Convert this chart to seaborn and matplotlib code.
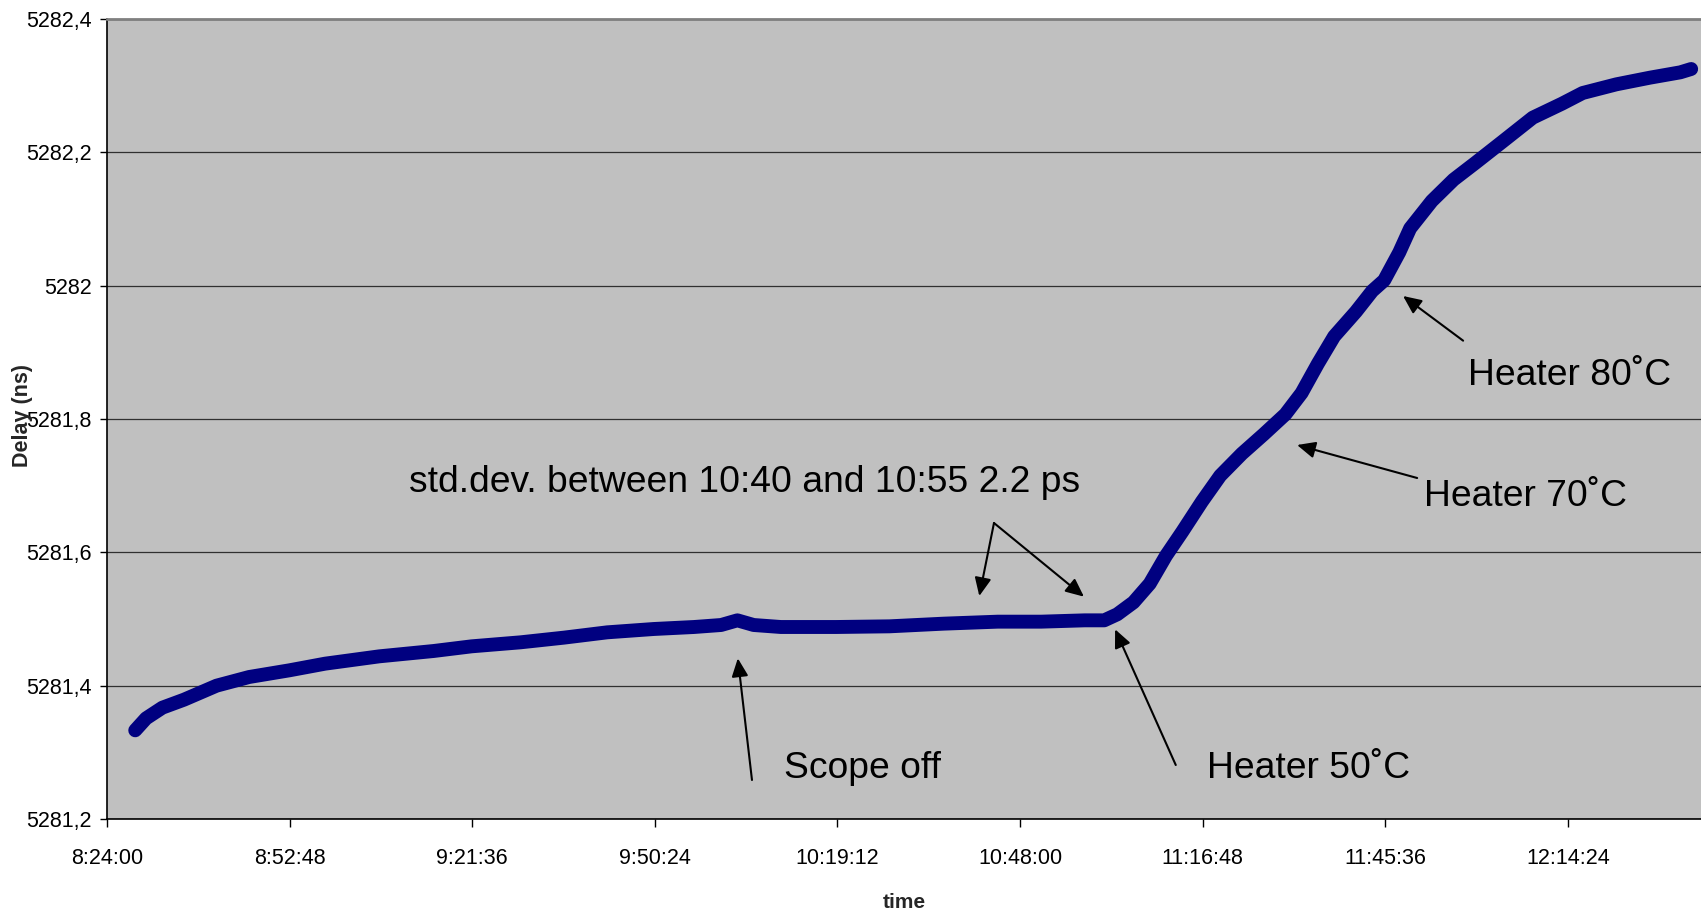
import matplotlib
matplotlib.use("Agg")
import pandas as pd
import matplotlib.pyplot as plt
import seaborn as sns

times = ["8:28:27", "8:30:10", "8:32:44", "8:36:09", "8:41:17", "8:46:25", "8:52:45",
         "8:58:24", "9:06:57", "9:15:31", "9:21:30", "9:29:12", "9:36:02", "9:42:53",
         "9:50:14", "9:56:35", "10:00:51", "10:03:25", "10:05:59", "10:10:16", "10:19:00",
         "10:27:23", "10:35:56", "10:44:29", "10:51:20", "10:58:11", "11:01:16", "11:03:19",
         "11:05:53", "11:08:27", "11:11:01", "11:13:35", "11:16:40", "11:19:34", "11:22:59",
         "11:26:25", "11:29:50", "11:32:24", "11:34:58", "11:37:32", "11:40:58", "11:43:32",
         "11:45:25", "11:47:48", "11:49:31", "11:52:56", "11:56:22", "11:59:47", "12:04:04",
         "12:08:51", "12:13:28", "12:16:43", "12:22:02", "12:27:20", "12:32:07", "12:33:50"]
delay = [5281.333, 5281.351, 5281.367, 5281.379, 5281.400, 5281.413, 5281.423,
         5281.433, 5281.444, 5281.452, 5281.459, 5281.465, 5281.472, 5281.480,
         5281.485, 5281.488, 5281.491, 5281.498, 5281.491, 5281.488, 5281.488,
         5281.489, 5281.493, 5281.496, 5281.496, 5281.498, 5281.498, 5281.507,
         5281.525, 5281.553, 5281.595, 5281.631, 5281.676, 5281.715, 5281.748,
         5281.777, 5281.807, 5281.839, 5281.883, 5281.924, 5281.961, 5281.992,
         5282.008, 5282.050, 5282.086, 5282.127, 5282.159, 5282.184, 5282.216,
         5282.252, 5282.273, 5282.289, 5282.302, 5282.312, 5282.320, 5282.325]

xtick_labels = ["8:24:00", "8:52:48", "9:21:36", "9:50:24", "10:19:12",
                "10:48:00", "11:16:48", "11:45:36", "12:14:24"]
ytick_values = [5281.2, 5281.4, 5281.6, 5281.8, 5282.0, 5282.2, 5282.4]
ytick_labels = ["5281,2", "5281,4", "5281,6", "5281,8", "5282", "5282,2", "5282,4"]

# annotations: text, text position, arrows (tail, tip)
notes = [
    ("std.dev. between 10:40 and 10:55 2.2 ps", ("9:11:33", 5281.690),
     [(("10:43:53", 5281.644), ("10:41:34", 5281.5345)),
      (("10:43:53", 5281.644), ("10:58:04", 5281.5335))]),
    ("Scope off", ("10:10:46", 5281.2615),
     [(("10:05:43", 5281.2585), ("10:03:29", 5281.441))]),
    ("Heater 50˚C", ("11:17:29", 5281.2615),
     [(("11:12:33", 5281.281), ("11:02:59", 5281.4845))]),
    ("Heater 70˚C", ("11:51:43", 5281.6695),
     [(("11:50:37", 5281.7115), ("11:31:41", 5281.761))]),
    ("Heater 80˚C", ("11:58:39", 5281.851),
     [(("11:57:52", 5281.9175), ("11:48:24", 5281.9845))]),
]


def secs(t):
    return pd.to_timedelta(t).total_seconds()


df = pd.DataFrame({"time": pd.to_timedelta(times).total_seconds(), "delay": delay})

sns.set_style("ticks")
plt.rcParams["font.family"] = ["Liberation Sans", "DejaVu Sans"]

fig = plt.figure(figsize=(17.01, 9.16), dpi=100)
ax = fig.add_axes([107 / 1701, 97 / 916, 1594 / 1701, 800 / 916])
ax.set_facecolor("#c0c0c0")

sns.lineplot(data=df, x="time", y="delay", color="#000080", linewidth=10,
             ax=ax, legend=False)
ax.lines[0].set_solid_capstyle("round")
ax.lines[0].set_solid_joinstyle("round")

ax.set_xlim(secs("8:24:00"), secs("12:35:23"))
ax.set_ylim(5281.2, 5282.4)
ax.set_xticks([secs(t) for t in xtick_labels])
ax.set_xticklabels(xtick_labels)
ax.set_yticks(ytick_values)
ax.set_yticklabels(ytick_labels)
ax.tick_params(axis="both", labelsize=15.5)
ax.tick_params(axis="x", direction="out", length=6, width=1, pad=15, colors="black")
ax.tick_params(axis="y", direction="out", length=5, width=1, pad=6, colors="black")

ax.yaxis.grid(True, color="#303030", linewidth=0.9)
ax.set_axisbelow(True)
for side in ["left", "bottom"]:
    ax.spines[side].set_color("black")
    ax.spines[side].set_linewidth(1.2)
ax.spines["top"].set_color("#808080")
ax.spines["top"].set_linewidth(2)
ax.spines["right"].set_visible(False)

ax.set_xlabel("time", fontsize=15, fontweight="bold")
ax.set_ylabel("Delay (ns)", fontsize=15.5, fontweight="bold")
ax.xaxis.set_label_coords(0.5, -0.092)
ax.yaxis.set_label_coords(-0.0464, 0.504)

for text, (tx, ty), arrows in notes:
    ax.text(secs(tx), ty, text, fontsize=26.8, ha="left", va="baseline", color="black")
    for (ax0, ay0), (ax1, ay1) in arrows:
        ax.annotate("", xy=(secs(ax1), ay1), xytext=(secs(ax0), ay0),
                    arrowprops=dict(arrowstyle="-|>,head_length=0.55,head_width=0.25",
                                    color="black", lw=1.5, mutation_scale=20,
                                    shrinkA=0, shrinkB=0))

fig.savefig("out.png", dpi=100)
